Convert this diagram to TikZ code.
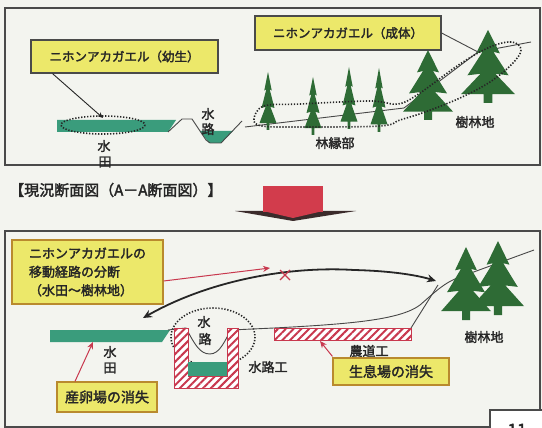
\documentclass[tikz,border=0pt]{standalone}
\usepackage{fontspec}
\newfontfamily\jpfont{Noto Sans CJK JP}[FakeBold=2.2]
\usetikzlibrary{arrows.meta,patterns.meta}
\definecolor{bg}{HTML}{F3F4EF}
\definecolor{frame}{HTML}{4A4A4A}
\definecolor{ink}{HTML}{262626}
\definecolor{labelyellow}{HTML}{ECE86A}
\definecolor{brownframe}{HTML}{B98A2E}
\definecolor{paddy}{HTML}{3A9C7C}
\definecolor{treegreen}{HTML}{2E6B35}
\definecolor{hatchred}{HTML}{C8384E}
\definecolor{blockred}{HTML}{D23C4C}
\definecolor{shadow}{HTML}{3B2B2B}

\tikzset{
  conifer/.pic={
    \fill[treegreen] (0,0) -- (0.22,0.32) -- (0.1,0.3) -- (0.38,0.62) -- (0.14,0.6)
      -- (0.5,0.88) -- (0.08,0.88) -- (0.08,1) -- (-0.08,1) -- (-0.08,0.88)
      -- (-0.5,0.88) -- (-0.14,0.6) -- (-0.38,0.62) -- (-0.1,0.3) -- (-0.22,0.32) -- cycle;
  }
}

\begin{document}
\begin{tikzpicture}[x=1pt,y=-1pt,
  panel/.style={draw=frame,line width=1.4pt},
  tag/.style={draw=frame,fill=labelyellow,line width=1.2pt,inner sep=0pt,
    text=ink,font=\jpfont\fontsize{12.5}{15}\selectfont},
  tagb/.style={tag,draw=brownframe},
  word/.style={text=ink,inner sep=0pt,font=\jpfont\fontsize{13}{15}\selectfont},
  ground/.style={draw=ink!85,line width=0.9pt,line join=round},
  dots/.style={draw=ink,line width=1.6pt,dash pattern=on 1.3pt off 1.7pt},
  hatch/.style={draw=hatchred,line width=1pt,fill=white,
    postaction={pattern={Lines[angle=45,distance=5.5pt,line width=2pt]},pattern color=hatchred}},
  pointer/.style={draw=ink,line width=0.9pt,-{Stealth[length=6pt,width=5pt]}},
  redpointer/.style={draw=hatchred,line width=1pt,-{Stealth[length=7pt,width=6pt]}},
  route/.style={draw=ink,line width=1.8pt,{Stealth[length=9pt,width=8pt]}-{Stealth[length=9pt,width=8pt]}}
]
\useasboundingbox (0,0) rectangle (542,428);
\fill[bg] (0,0) rectangle (542,428);

% ---------- upper section: present state ----------
\draw[panel] (5,8) rectangle (540,165);

% paddy field and natural water channel
\fill[paddy] (57,120) -- (176,120) -- (168,132) -- (57,132) -- cycle;
\fill[paddy] (200,131) -- (233,131) -- (221,143) -- (209,143) -- cycle;
\draw[ground] (168,132) -- (182,119) -- (192,119) -- (206,140) -- (210,143) -- (221,143) -- (242,121);
\draw[ground] (245,127) -- (404,108) -- (478,52) -- (531,42);

% forest edge and woodland
\pic[xscale=17,yscale=58] at (268,72) {conifer};
\pic[xscale=17,yscale=58] at (313,77) {conifer};
\pic[xscale=17,yscale=62] at (349,67) {conifer};
\pic[xscale=17,yscale=64] at (379,68) {conifer};
\pic[xscale=50,yscale=70] at (428,50) {conifer};
\pic[xscale=54,yscale=73] at (488,30) {conifer};

% habitat outlines
\draw[dots] (103,125) ellipse [x radius=42, y radius=9];
\draw[dots] plot[smooth cycle, tension=0.6] coordinates {
  (254,119) (264,106) (300,104) (370,101) (398,104) (420,93) (460,64)
  (490,47) (512,42) (521,50) (512,64) (490,82) (460,98) (425,112)
  (400,120) (380,126) (300,127) (262,126)};

% labels
\node[tag,minimum width=187pt,minimum height=33pt] (larva) at (124.5,56.5) {ニホンアカガエル（幼生）};
\node[tag,minimum width=186pt,minimum height=34pt] (adult) at (348,33) {ニホンアカガエル（成体）};
\coordinate (larvaT) at (103,118);
\draw[pointer] ([xshift=-72pt]larva.south) -- (larvaT);
\coordinate (adultT) at (478,52);
\draw[ground] (adult.east) -- (adultT);

\node[word] (w1) at (208,114) {水};
\node[word] (w2) at (208,129) {路};
\node[word] (w3) at (104,146) {水};
\node[word] (w4) at (105,162) {田};
\node[word] (edge) at (335,143) {林縁部};
\node[word] (wood) at (475,122) {樹林地};

% ---------- caption and transition arrow ----------
\node[text=ink,inner sep=0pt,font=\jpfont\fontsize{15}{17}\selectfont,anchor=west] (title) at (9,190) {【現況断面図（A－A断面図）】};
\fill[shadow] (235,211) -- (356,211) -- (293,221) -- cycle;
\fill[blockred] (263,186) rectangle (323,212);
\fill[blockred] (263,211) -- (323,211) -- (293,218) -- cycle;

% ---------- lower section: after works ----------
\draw[panel] (5,231) rectangle (540,427);

\fill[paddy] (50,330) -- (170,330) -- (162,342) -- (50,342) -- cycle;
\draw[dots] (213,337) ellipse [x radius=42, y radius=29];
\draw[ground] (168,330) -- (186,328) .. controls (195,345) and (200,354) .. (210,354)
  .. controls (220,354) and (225,340) .. (231,330) -- (274,328)
  .. controls (350,324) and (400,320) .. (420,305)
  .. controls (435,292) and (445,282) .. (460,277) -- (534,250);
\draw[ground] (411,328) -- (438,285);

% concrete channel and farm road
\draw[hatch] (174,328) -- (188,328) -- (188,376) -- (227,376) -- (227,328) -- (238,328)
  -- (238,388) -- (174,388) -- cycle;
\fill[paddy] (188,362) rectangle (227,376);
\draw[hatch] (274,328) rectangle (411,340);

\pic[xscale=50,yscale=73] at (466,247) {conifer};
\pic[xscale=52,yscale=74] at (498,241) {conifer};

\node[word] (b1) at (204,322) {水};
\node[word] (b2) at (205,339) {路};
\node[word] (b3) at (110,352) {水};
\node[word] (b4) at (110,368) {田};
\node[word] (canal) at (268,367) {水路工};
\node[word] (road) at (369,351) {農道工};
\node[word] (wood2) at (484,337) {樹林地};

\node[tagb,minimum width=151pt,minimum height=64pt,align=left,
  font=\jpfont\fontsize{13}{18.5}\selectfont] (cut) at (87.5,272)
  {ニホンアカガエルの\\移動経路の分断\\（水田～樹林地）};
\node[tagb,minimum width=100pt,minimum height=30pt,font=\jpfont\fontsize{14}{16}\selectfont] (spawn) at (107,397) {産卵場の消失};
\node[tagb,minimum width=116pt,minimum height=27pt,font=\jpfont\fontsize{14}{16}\selectfont] (habitat) at (391,371.5) {生息場の消失};

\coordinate (cutT) at (270,268);
\draw[redpointer] ([yshift=-9pt]cut.east) -- (cutT);
\coordinate (spawnT) at (93,342);
\draw[redpointer] ([xshift=-32pt]spawn.north) -- (spawnT);
\coordinate (habitatT) at (320,341);
\draw[redpointer] ([yshift=1pt]habitat.north west) -- (habitatT);

% broken migration route
\coordinate (paddyEnd) at (143,318);
\coordinate (woodEnd) at (436,281);
\draw[route] (paddyEnd) .. controls (210,280) and (290,266) .. (354,270)
  .. controls (395,271) and (420,276) .. (woodEnd);
\coordinate (xmark) at (285,275);
\draw[hatchred,line width=1.4pt] ([shift={(-5,-5)}]xmark) -- ([shift={(5,5)}]xmark)
  ([shift={(-5,5)}]xmark) -- ([shift={(5,-5)}]xmark);

% page number tab
\draw[panel,fill=white] (490,410) rectangle (548,440);
\node[text=ink,inner sep=0pt,font=\jpfont\fontsize{17}{18}\selectfont] (pnum) at (517,430) {11};
\end{tikzpicture}
\end{document}
